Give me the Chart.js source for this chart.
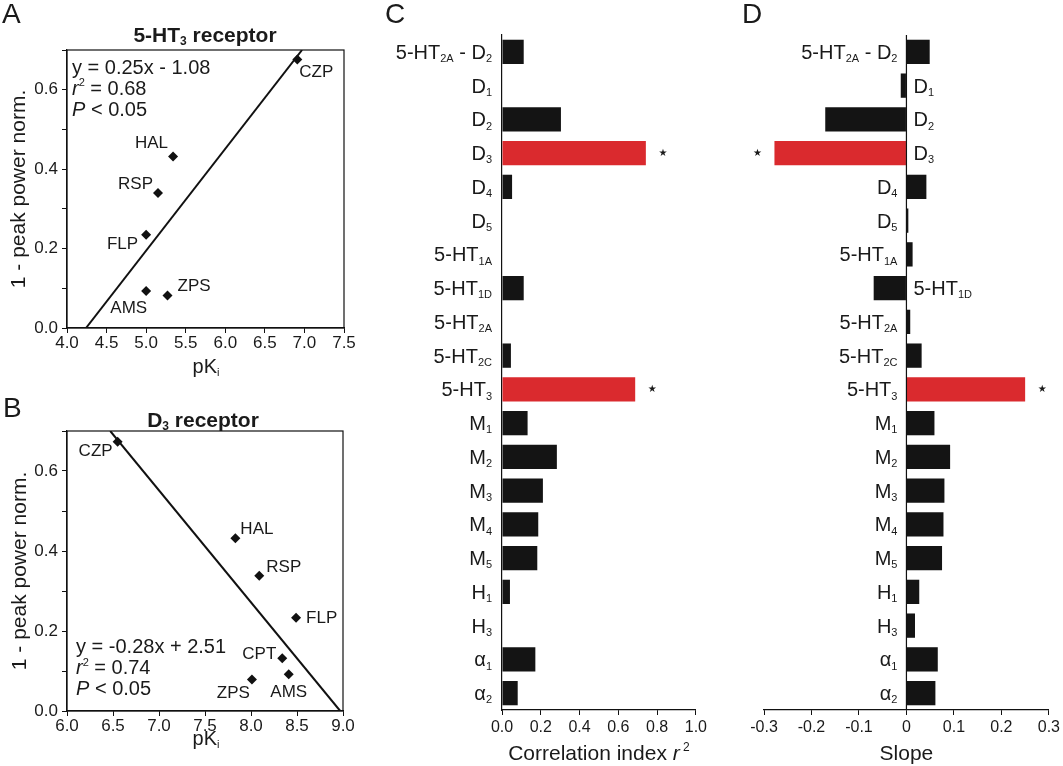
<!DOCTYPE html>
<html lang="en">
<head>
<meta charset="UTF-8">
<title>Receptor correlation</title>
<style>
    body { margin: 0; background: #fff; }
    .panel { position: absolute; }
    canvas { display: block; }
</style>
<script src="https://cdn.jsdelivr.net/npm/chart.js"></script>
</head>
<body>
<div class="panel" style="left:0;top:0"><canvas id="chartA" width="360" height="380"></canvas></div>
<div class="panel" style="left:0;top:380px"><canvas id="chartB" width="360" height="386"></canvas></div>
<div class="panel" style="left:360px;top:0"><canvas id="chartC" width="350" height="766"></canvas></div>
<div class="panel" style="left:710px;top:0"><canvas id="chartD" width="353" height="766"></canvas></div>

<script>
// A: 5-HT3 receptor
var drugsA = ['CZP', 'HAL', 'RSP', 'FLP', 'AMS', 'ZPS'];
var pkiA = [6.91, 5.34, 5.15, 5.00, 5.00, 5.27];
var effectA = [0.676, 0.432, 0.340, 0.235, 0.093, 0.082];
var fitXA = [4.24, 6.97];
var fitYA = [0.0, 0.7];
var eqA = 'y = 0.25x - 1.08', r2A = '0.68', pA = '0.05';

// B: D3 receptor
var drugsB = ['CZP', 'HAL', 'RSP', 'FLP', 'CPT', 'AMS', 'ZPS'];
var pkiB = [6.55, 7.83, 8.09, 8.49, 8.34, 8.41, 8.01];
var effectB = [0.673, 0.432, 0.338, 0.233, 0.132, 0.092, 0.079];
var fitXB = [6.47, 8.97];
var fitYB = [0.7, 0.0];
var eqB = 'y = -0.28x + 2.51', r2B = '0.74', pB = '0.05';

// C, D: all receptors ("_" marks a subscript)
var receptors = ['5-HT_2A - D_2', 'D_1', 'D_2', 'D_3', 'D_4', 'D_5', '5-HT_1A', '5-HT_1D', '5-HT_2A', '5-HT_2C',
                 '5-HT_3', 'M_1', 'M_2', 'M_3', 'M_4', 'M_5', 'H_1', 'H_3', 'α_1', 'α_2'];
var corrIndex = [0.112, 0, 0.304, 0.742, 0.052, 0, 0, 0.112, 0, 0.046,
                 0.687, 0.132, 0.283, 0.211, 0.187, 0.182, 0.041, 0, 0.172, 0.081];
var slopes = [0.049, -0.012, -0.171, -0.278, 0.042, 0.004, 0.013, -0.069, 0.008, 0.032,
              0.250, 0.059, 0.092, 0.080, 0.078, 0.075, 0.027, 0.018, 0.066, 0.061];
var significant = ['D_3', '5-HT_3'];

var FONT = "'Liberation Sans', Arial, Helvetica, sans-serif";
var ink = '#1a1a1a';
Chart.defaults.font.family = FONT;
Chart.defaults.color = ink;

function fontStr(size, weight, italic) {
    return (italic ? 'italic ' : '') + (weight || 'normal') + ' ' + size + 'px ' + FONT;
}

// text with sub/superscripts, segs = [{t, sub, sup, it}]
function drawRich(ctx, segs, x, y, align, size, weight) {
    var small = Math.round(size * 0.56);
    var total = 0;
    segs.forEach(function (s) {
        ctx.font = fontStr(s.sub || s.sup ? small : size, weight, s.it);
        s.w = ctx.measureText(s.t).width;
        total += s.w;
    });
    var cx = x;
    if (align === 'right') cx = x - total;
    if (align === 'center') cx = x - total / 2;
    ctx.textAlign = 'left';
    ctx.textBaseline = 'alphabetic';
    segs.forEach(function (s) {
        ctx.font = fontStr(s.sub || s.sup ? small : size, weight, s.it);
        var dy = s.sub ? size * 0.16 : (s.sup ? -size * 0.42 : 0);
        ctx.fillText(s.t, cx, y + dy);
        cx += s.w;
    });
}

function parseSub(label) {
    return label.split(/_(\S+)/).map(function (p, i) {
        return { t: p, sub: i % 2 === 1 };
    }).filter(function (s) { return s.t; });
}

function statLines(eq, r2, p) {
    return [
        [{ t: eq }],
        [{ t: 'r', it: true }, { t: '2', sup: true }, { t: ' = ' + r2 }],
        [{ t: 'P', it: true }, { t: ' < ' + p }]
    ];
}

var scatterText = {
    id: 'scatterText',
    afterDraw: function (chart, args, o) {
        var ctx = chart.ctx, a = chart.chartArea;
        ctx.save();
        ctx.strokeStyle = '#111';
        ctx.lineWidth = 1.2;
        ctx.strokeRect(a.left, a.top, a.right - a.left, a.bottom - a.top);
        ctx.fillStyle = ink;

        // drug labels next to points
        var meta = chart.getDatasetMeta(1);
        ctx.font = fontStr(17);
        ctx.textBaseline = 'middle';
        o.drugs.forEach(function (d, i) {
            var el = meta.data[i], off = o.offsets[i];
            ctx.textAlign = off[2];
            ctx.fillText(d, el.x + off[0], el.y + off[1]);
        });

        ctx.font = fontStr(28);
        ctx.textAlign = 'left';
        ctx.textBaseline = 'alphabetic';
        ctx.fillText(o.letter, o.letterX, o.letterY);

        drawRich(ctx, o.title, o.titleX, o.titleY, 'center', 21, 'bold');
        o.stats.forEach(function (line, i) {
            drawRich(ctx, line, o.statsX, o.statsY + i * 21, 'left', 20);
        });
        drawRich(ctx, [{ t: 'pK' }, { t: 'i', sub: true }], o.xTitleX, o.xTitleY, 'center', 20);

        ctx.translate(o.yTitleX, o.yTitleY);
        ctx.rotate(-Math.PI / 2);
        ctx.font = fontStr(21);
        ctx.textAlign = 'center';
        ctx.textBaseline = 'middle';
        ctx.fillText('1 - peak power norm.', 0, 0);
        ctx.restore();
    }
};

function axisStyle() {
    return {
        grid: { drawOnChartArea: false, drawTicks: true, tickLength: 5, color: '#111', lineWidth: 1 },
        border: { display: true, color: '#111', width: 1.2 }
    };
}

function scatterConfig(pki, effect, fitX, fitY, xMin, xMax, padTop, padRight, xAxisH, text) {
    var points = pki.map(function (x, i) { return { x: x, y: effect[i] }; });
    var fit = fitX.map(function (x, i) { return { x: x, y: fitY[i] }; });
    var sx = axisStyle(), sy = axisStyle();
    return {
        type: 'scatter',
        data: {
            datasets: [
                { data: fit, showLine: true, borderColor: '#111', borderWidth: 2, pointRadius: 0 },
                { data: points, pointStyle: 'rectRot', pointRadius: 5, backgroundColor: '#111', borderWidth: 0 }
            ]
        },
        options: {
            responsive: false,
            animation: false,
            events: [],
            layout: { padding: { left: 0, right: padRight, top: padTop, bottom: 0 } },
            plugins: { legend: { display: false }, tooltip: { enabled: false }, scatterText: text },
            scales: {
                x: {
                    type: 'linear', min: xMin, max: xMax,
                    ticks: { stepSize: 0.5, padding: 0, autoSkip: false, maxRotation: 0, font: { size: 17 },
                             callback: function (v) { return v.toFixed(1); } },
                    grid: sx.grid, border: sx.border,
                    afterFit: function (s) { s.height = xAxisH; }
                },
                y: {
                    min: 0, max: 0.7,
                    ticks: { stepSize: 0.1, padding: 4, autoSkip: false, font: { size: 17 },
                             callback: function (v) { return Math.round(v * 10) % 2 === 0 ? v.toFixed(1) : ''; } },
                    grid: sy.grid, border: sy.border,
                    afterFit: function (s) { s.width = 67; }
                }
            }
        },
        plugins: [scatterText]
    };
}

new Chart(document.getElementById('chartA'), scatterConfig(pkiA, effectA, fitXA, fitYA, 4.0, 7.5, 50, 16, 52, {
    drugs: drugsA,
    offsets: [[2, 13, 'left'], [-5, -13, 'right'], [-5, -9, 'right'], [-8, 10, 'right'], [1, 17, 'right'], [10, -9, 'left']],
    letter: 'A', letterX: 2, letterY: 23,
    title: [{ t: '5-HT' }, { t: '3', sub: true }, { t: ' receptor' }], titleX: 205, titleY: 42,
    stats: statLines(eqA, r2A, pA), statsX: 72, statsY: 73.5,
    xTitleX: 206, xTitleY: 373, yTitleX: 19, yTitleY: 189
}));

new Chart(document.getElementById('chartB'), scatterConfig(pkiB, effectB, fitXB, fitYB, 6.0, 9.0, 51, 17, 55, {
    drugs: drugsB,
    offsets: [[-5, 10, 'right'], [5, -9, 'left'], [7, -8, 'left'], [10, 1, 'left'], [-6, -4, 'right'], [0, 18, 'center'], [-2, 14, 'right']],
    letter: 'B', letterX: 3, letterY: 37,
    title: [{ t: 'D' }, { t: '3', sub: true }, { t: ' receptor' }], titleX: 203, titleY: 47,
    stats: statLines(eqB, r2B, pB), statsX: 76, statsY: 273,
    xTitleX: 206, xTitleY: 365, yTitleX: 20, yTitleY: 191
}));

var receptorText = {
    id: 'receptorText',
    afterDraw: function (chart, args, o) {
        var ctx = chart.ctx, a = chart.chartArea;
        var xs = chart.scales.x, ys = chart.scales.y;
        var vals = chart.data.datasets[0].data;
        var zero = xs.getPixelForValue(0);
        ctx.save();
        if (o.zeroLine) {
            ctx.strokeStyle = '#111';
            ctx.lineWidth = 1.2;
            ctx.beginPath();
            ctx.moveTo(zero, a.top);
            ctx.lineTo(zero, a.bottom);
            ctx.stroke();
        }
        ctx.fillStyle = ink;
        receptors.forEach(function (r, i) {
            var yc = ys.getPixelForValue(i);
            var segs = parseSub(r);
            if (o.zeroLine && vals[i] < 0) {
                drawRich(ctx, segs, zero + 7, yc + 7, 'left', 20);
            } else {
                drawRich(ctx, segs, zero - (o.zeroLine ? 9 : 10), yc + 7, 'right', 20);
            }
            if (significant.indexOf(r) >= 0) {
                var end = xs.getPixelForValue(vals[i]);
                ctx.font = "10px 'DejaVu Sans'";
                ctx.textAlign = 'center';
                ctx.textBaseline = 'middle';
                ctx.fillText('★', end + (vals[i] < 0 ? -17 : 17), yc);
            }
        });
        ctx.font = fontStr(28);
        ctx.textAlign = 'left';
        ctx.textBaseline = 'alphabetic';
        ctx.fillText(o.letter, o.letterX, 23);
        drawRich(ctx, o.title, (a.left + a.right) / 2, 760, 'center', 21);
        ctx.restore();
    }
};

function barConfig(values, xMin, xMax, fmt, pad, yWidth, text) {
    var sx = axisStyle();
    return {
        type: 'bar',
        data: {
            labels: receptors,
            datasets: [{
                data: values,
                backgroundColor: receptors.map(function (r) { return significant.indexOf(r) >= 0 ? '#da2a2e' : '#141414'; }),
                borderWidth: 0,
                barPercentage: 1,
                categoryPercentage: 0.72
            }]
        },
        options: {
            indexAxis: 'y',
            responsive: false,
            animation: false,
            events: [],
            layout: { padding: pad },
            plugins: { legend: { display: false }, tooltip: { enabled: false }, receptorText: text },
            scales: {
                x: {
                    type: 'linear', min: xMin, max: xMax,
                    ticks: { stepSize: xMin < 0 ? 0.1 : 0.2, padding: 3, autoSkip: false, maxRotation: 0,
                             font: { size: 16 }, callback: fmt },
                    grid: sx.grid, border: sx.border,
                    afterFit: function (s) { s.height = 56; }
                },
                y: {
                    display: yWidth > 0,
                    ticks: { display: false },
                    grid: { display: false },
                    border: { display: true, color: '#111', width: 1.2 },
                    afterFit: function (s) { s.width = yWidth; }
                }
            }
        },
        plugins: [receptorText]
    };
}

new Chart(document.getElementById('chartC'), barConfig(corrIndex, 0, 1,
    function (v) { return v.toFixed(1); },
    { left: 0, right: 13, top: 35, bottom: 0 }, 142,
    { zeroLine: false, letter: 'C', letterX: 25,
      title: [{ t: 'Correlation index ' }, { t: 'r', it: true }, { t: ' 2', sup: true }] }));

new Chart(document.getElementById('chartD'), barConfig(slopes, -0.3, 0.3,
    function (v) { return Math.abs(v) < 1e-9 ? '0' : v.toFixed(1); },
    { left: 54, right: 14, top: 35, bottom: 0 }, 0,
    { zeroLine: true, letter: 'D', letterX: 32, title: [{ t: 'Slope' }] }));
</script>
</body>
</html>
